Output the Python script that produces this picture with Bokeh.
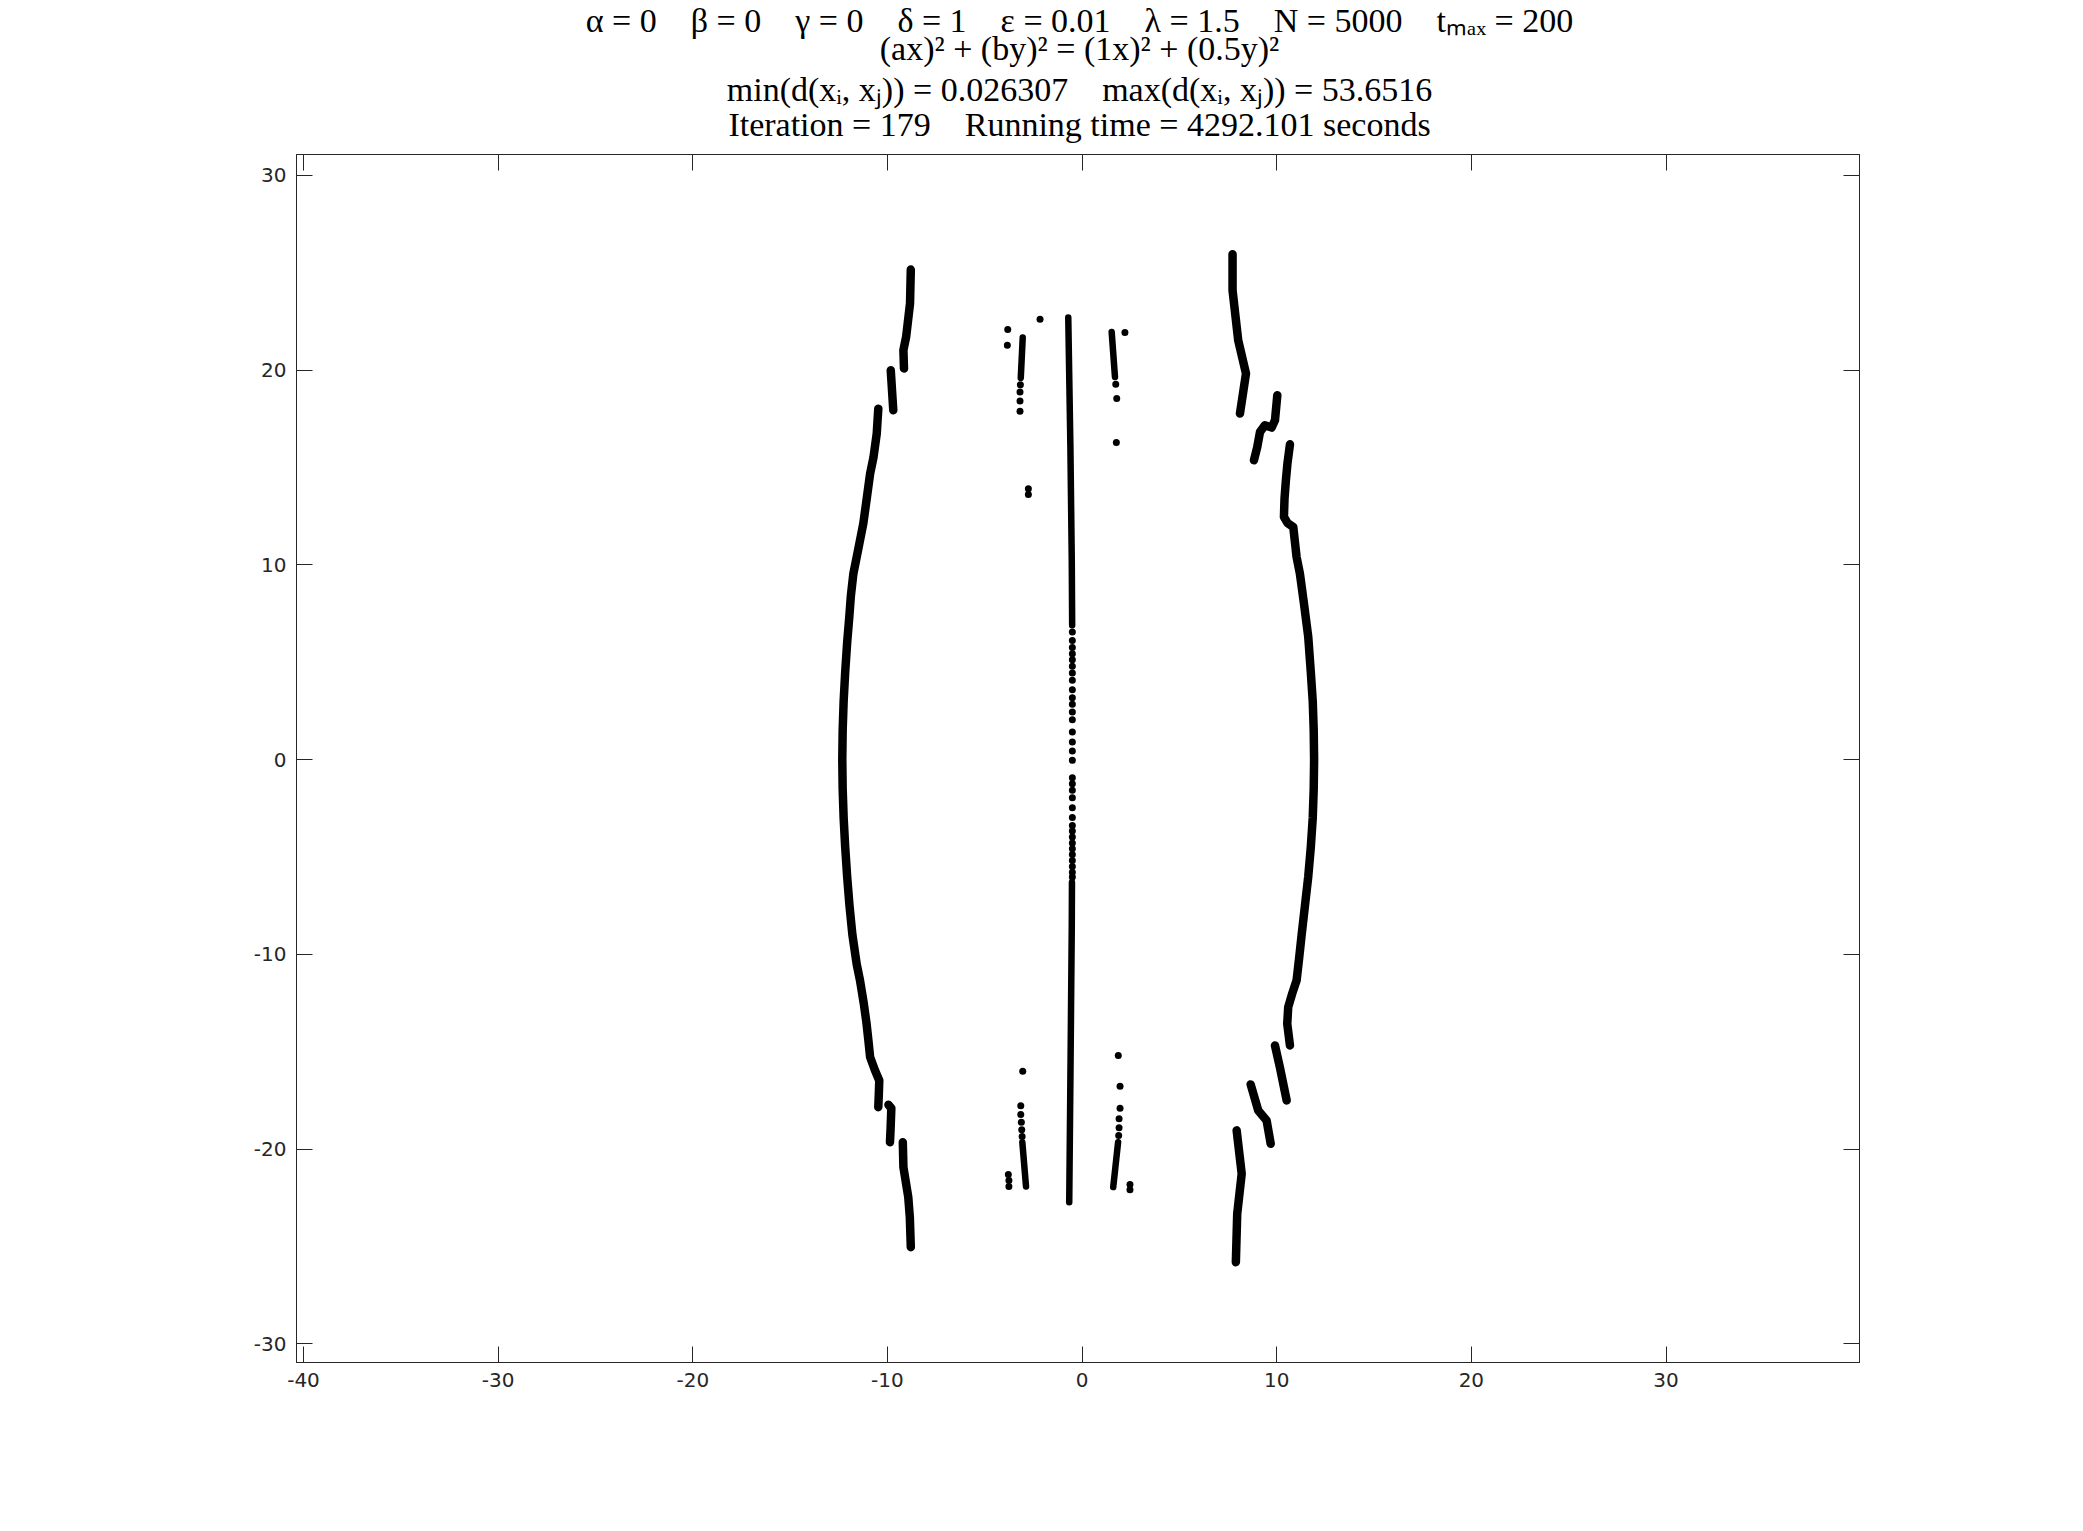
from bokeh.plotting import figure
from bokeh.models import Range1d, LinearAxis, FixedTicker
from bokeh.layouts import column
from bokeh.core.properties import value
from bokeh.embed import file_html
from bokeh.resources import INLINE

# ---------------- data ----------------
x_ticks = [-40, -30, -20, -10, 0, 10, 20, 30]
y_ticks = [-30, -20, -10, 0, 10, 20, 30]

Q = "\u2003"  # one quad of space, as in the LaTeX title
title_lines = [
    f"α = 0{Q}β = 0{Q}γ = 0{Q}δ = 1{Q}ε = 0.01{Q}λ = 1.5{Q}N = 5000{Q}tₘₐₓ = 200",
    "(ax)² + (by)² = (1x)² + (0.5y)²",
    f"min(d(xᵢ, xⱼ)) = 0.026307{Q}max(d(xᵢ, xⱼ)) = 53.6516",
    f"Iteration = 179{Q}Running time = 4292.101 seconds",
]

# outer left pieces
left_top1_x = [-8.80, -8.84, -9.04, -9.18, -9.15]
left_top1_y = [25.16, 23.42, 21.70, 21.02, 20.08]
left_top2_x = [-9.83, -9.70]
left_top2_y = [19.99, 17.94]
left_arc_x = [-10.47, -10.55, -10.72, -10.89, -11.05, -11.24, -11.50, -11.75, -11.88, -11.96,
              -12.07, -12.17, -12.25, -12.30, -12.32, -12.30, -12.25, -12.17, -12.07, -11.95,
              -11.80, -11.58, -11.41, -11.22, -11.08, -10.97, -10.89, -10.64, -10.42, -10.44, -10.47]
left_arc_y = [18.02, 16.74, 15.50, 14.68, 13.50, 12.12, 10.80, 9.55, 8.40, 7.32,
              6.00, 4.50, 3.00, 1.50, 0.00, -1.50, -3.00, -4.50, -6.00, -7.50,
              -9.00, -10.50, -11.34, -12.50, -13.50, -14.50, -15.28, -15.96, -16.48, -17.10, -17.85]
left_bot2_x = [-9.95, -9.80, -9.84, -9.87]
left_bot2_y = [-17.72, -17.90, -19.00, -19.65]
left_bot3_x = [-9.21, -9.18, -8.93, -8.85, -8.80]
left_bot3_y = [-19.65, -20.93, -22.47, -23.50, -25.04]

# outer right pieces
right_top1_x = [7.73, 7.73, 8.02, 8.42, 8.11]
right_top1_y = [25.95, 24.10, 21.53, 19.82, 17.77]
right_top2_x = [10.03, 9.91, 9.74, 9.39, 9.14, 9.00, 8.83]
right_top2_y = [18.71, 17.42, 17.05, 17.17, 16.82, 16.05, 15.37]
right_arc_x = [10.68, 10.55, 10.47, 10.40, 10.37, 10.55, 10.85, 11.02, 11.19, 11.40, 11.62,
               11.75, 11.85, 11.90, 11.92, 11.90, 11.85, 11.75, 11.62, 11.45, 11.28, 11.15,
               11.02, 10.80, 10.59, 10.54, 10.68]
right_arc_y = [16.19, 15.20, 14.34, 13.40, 12.46, 12.15, 11.94, 10.40, 9.55, 8.00, 6.29,
               4.50, 3.00, 1.50, 0.00, -1.50, -3.00, -4.50, -6.00, -7.50, -9.00, -10.20,
               -11.34, -12.00, -12.71, -13.57, -14.68]
right_bot2_x = [9.91, 10.16, 10.51]
right_bot2_y = [-14.68, -15.79, -17.50]
right_bot3_x = [8.66, 9.05, 9.48, 9.69]
right_bot3_y = [-16.68, -18.02, -18.53, -19.73]
right_bot4_x = [7.94, 8.20, 7.97, 7.90]
right_bot4_y = [-19.04, -21.27, -23.32, -25.81]

# inner dense columns
center_top_x = [-0.71, -0.60, -0.53, -0.51]
center_top_y = [22.70, 16.00, 10.23, 6.90]
center_bot_x = [-0.52, -0.53, -0.59, -0.66]
center_bot_y = [-6.30, -8.60, -15.28, -22.73]
inner_lt_x = [-3.05, -3.15]
inner_lt_y = [21.67, 19.60]
inner_rt_x = [1.52, 1.69]
inner_rt_y = [21.96, 19.65]
inner_lb_x = [-3.07, -2.88]
inner_lb_y = [-19.65, -21.92]
inner_rb_x = [1.85, 1.60]
inner_rb_y = [-19.65, -21.95]

# separate dots on the central column
center_dots_y = [6.55, 6.12, 5.75, 5.44, 5.13, 4.79, 4.44, 4.07, 3.59, 3.18, 2.84, 2.44,
                 2.05, 1.41, 0.90, 0.44, -0.04, -0.93, -1.24, -1.58, -1.96, -2.47, -2.98,
                 -3.38, -3.67, -3.98, -4.29, -4.58, -4.87, -5.18, -5.49, -5.78, -6.03]
center_dots_x = [-0.50] * len(center_dots_y)

# other isolated dots
dots_x = [-3.17, -3.19, -3.19, -3.19, 1.73, 1.78, 1.76, -3.82, -3.84, -2.16, -2.76, -2.76, 2.20,
          -3.05, -3.15, -3.15, -3.12, -3.10, -3.08, -3.79, -3.76, -3.76,
          1.86, 1.95, 1.95, 1.90, 1.90, 1.88, 2.46, 2.46]
dots_y = [19.25, 18.88, 18.41, 17.88, 19.27, 18.54, 16.28, 22.08, 21.27, 22.61, 13.91, 13.61, 21.93,
          -16.00, -17.78, -18.22, -18.62, -19.01, -19.35, -21.30, -21.61, -21.92,
          -15.19, -16.78, -17.90, -18.44, -18.91, -19.30, -21.82, -22.09]

# ---------------- layout constants ----------------
W, H = 2083, 1531
TITLE_H = 144
FRAME_L, FRAME_R, FRAME_T, FRAME_B = 296, 1859, 154, 1362
AX = "#262626"

# ---------------- title strip (pixel coordinates) ----------------
tf = figure(width=W, height=TITLE_H, x_range=Range1d(0, W), y_range=Range1d(TITLE_H, 0),
            output_backend="svg", toolbar_location=None,
            min_border=0, min_border_left=0, min_border_right=0,
            min_border_top=0, min_border_bottom=0,
            x_axis_location=None, y_axis_location=None)
tf.grid.visible = False
tf.outline_line_color = None
tf.background_fill_color = "white"
tf.border_fill_color = "white"
title_x = (FRAME_L + FRAME_R) / 2 - 34
title_baselines = [20, 47.5, 89, 124]
tf.text(x=[title_x] * 4, y=title_baselines, text=title_lines,
        text_align="center", text_baseline="alphabetic",
        text_font=value("Liberation Serif"), text_font_size=value("34px"), text_color="black")

# ---------------- main figure ----------------
p = figure(width=W, height=H - TITLE_H,
           x_range=Range1d(-40.36, 39.94), y_range=Range1d(-30.96, 31.07),
           output_backend="svg", toolbar_location=None,
           min_border_left=FRAME_L, min_border_right=W - FRAME_R,
           min_border_top=FRAME_T - TITLE_H, min_border_bottom=H - FRAME_B)
p.background_fill_color = "white"
p.border_fill_color = "white"
p.outline_line_color = AX
p.grid.visible = False

def style_axis(ax, ticks, labels=True):
    ax.ticker = FixedTicker(ticks=ticks)
    ax.major_tick_in = 16
    ax.major_tick_out = 0
    ax.minor_tick_in = 0
    ax.minor_tick_out = 0
    ax.axis_line_color = AX
    ax.major_tick_line_color = AX
    ax.major_label_text_font = "DejaVu Sans"
    if labels:
        ax.major_label_text_color = AX
        ax.major_label_text_font_size = "20px"
        ax.major_label_standoff = 10
        ax.major_label_overrides = {t: str(t) for t in ticks}
    else:
        ax.major_label_text_color = None
        ax.major_label_text_font_size = "1px"
        ax.major_label_standoff = 0

style_axis(p.xaxis[0], x_ticks)
style_axis(p.yaxis[0], y_ticks)
top_ax = LinearAxis()
style_axis(top_ax, x_ticks, labels=False)
p.add_layout(top_ax, "above")
right_ax = LinearAxis()
style_axis(right_ax, y_ticks, labels=False)
p.add_layout(right_ax, "right")

outer = [(left_top1_x, left_top1_y), (left_top2_x, left_top2_y), (left_arc_x, left_arc_y),
         (left_bot2_x, left_bot2_y), (left_bot3_x, left_bot3_y),
         (right_top1_x, right_top1_y), (right_top2_x, right_top2_y), (right_arc_x, right_arc_y),
         (right_bot2_x, right_bot2_y), (right_bot3_x, right_bot3_y), (right_bot4_x, right_bot4_y)]
for xs, ys in outer:
    p.line(xs, ys, line_width=8.5, line_color="black", line_cap="round", line_join="round")

inner = [(center_top_x, center_top_y), (center_bot_x, center_bot_y),
         (inner_lt_x, inner_lt_y), (inner_rt_x, inner_rt_y),
         (inner_lb_x, inner_lb_y), (inner_rb_x, inner_rb_y)]
for xs, ys in inner:
    p.line(xs, ys, line_width=6.5, line_color="black", line_cap="round", line_join="round")

p.scatter(center_dots_x, center_dots_y, size=7, fill_color="black", line_color=None)
p.scatter(dots_x, dots_y, size=7, fill_color="black", line_color=None)

layout = column(tf, p, spacing=0)
open("out.html", "w").write(file_html(layout, INLINE))
